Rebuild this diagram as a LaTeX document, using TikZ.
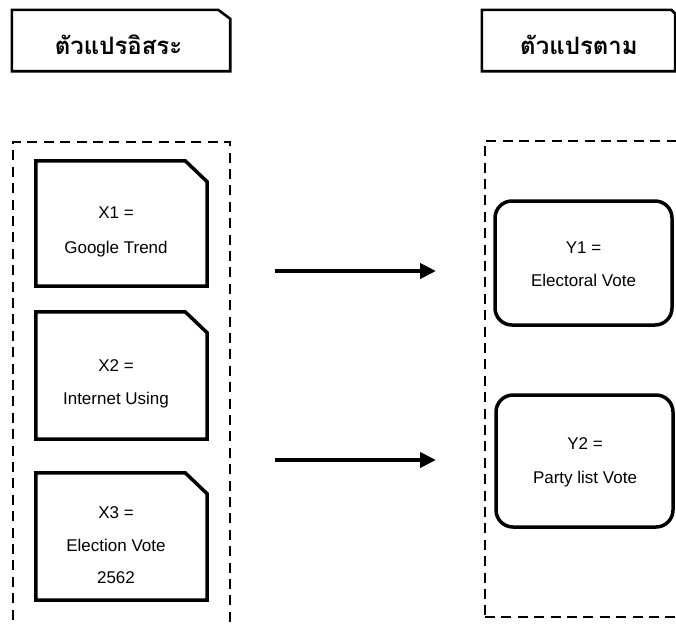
\documentclass[tikz,border=0pt]{standalone}
\usepackage{fontspec}
\setmainfont{Liberation Sans}
\newfontfamily\thaifont[Script=Thai]{Loma}
\usetikzlibrary{arrows.meta}
\begin{document}
\begin{tikzpicture}[x=1pt,y=-1pt,
  hdrline/.style={line width=2.6pt, line join=miter},
  boxline/.style={line width=3.5pt, line join=miter},
  roundbox/.style={draw, line width=3.5pt, rounded corners=17pt, minimum width=177pt, inner sep=0pt},
  dashbox/.style={draw, line width=2.3pt, dash pattern=on 10pt off 6.4pt, inner sep=0pt},
  plainbox/.style={inner sep=0pt},
  lbl/.style={font=\fontsize{17}{20}\selectfont, anchor=base, inner sep=0pt},
  thailbl/.style={font=\thaifont\bfseries\fontsize{24}{28}\selectfont, anchor=base, inner sep=0pt},
  arr/.style={line width=4pt, -{Triangle[length=16pt,width=15pt]}}]
\useasboundingbox (0,0) rectangle (676,624);
\clip (0,0) rectangle (676,624);
% group frames
\node[dashbox, minimum width=217pt, minimum height=558pt] (gx) at (121.5,421) {};
\node[dashbox, minimum width=235pt, minimum height=476pt] (gy) at (602.5,379) {};
% header boxes
\node[plainbox, minimum width=218pt, minimum height=61pt] (hx) at (121,40.5) {};
\draw[hdrline] (hx.north west) -- ([xshift=-12pt]hx.north east) -- ([yshift=-9pt]hx.north east) -- (hx.south east) -- (hx.south west) -- cycle;
\node[thailbl] (hxt) at (118.5,54) {ตัวแปรอิสระ};
\node[plainbox, minimum width=193pt, minimum height=61pt] (hy) at (578.5,40.5) {};
\draw[hdrline] (hy.north west) -- ([xshift=-4pt]hy.north east) -- ([yshift=-4pt]hy.north east) -- (hy.south east) -- (hy.south west) -- cycle;
\node[thailbl] (hyt) at (579,54) {ตัวแปรตาม};
% X boxes
\node[plainbox, minimum width=171pt, minimum height=125pt] (x1) at (121.5,223.5) {};
\node[plainbox, minimum width=171pt, minimum height=127pt] (x2) at (121.5,375.5) {};
\node[plainbox, minimum width=171pt, minimum height=127pt] (x3) at (121.5,536.5) {};
\foreach \b in {x1,x2,x3}{
  \draw[boxline] (\b.north west) -- ([xshift=-22pt]\b.north east) -- ([yshift=-21pt]\b.north east) -- (\b.south east) -- (\b.south west) -- cycle;
}
\node[lbl] (x1a) at (116,218) {X1 =};
\node[lbl] (x1b) at (116,253) {Google Trend};
\node[lbl] (x2a) at (116,371) {X2 =};
\node[lbl] (x2b) at (116,404) {Internet Using};
\node[lbl] (x3a) at (116,518) {X3 =};
\node[lbl] (x3b) at (116,551) {Election Vote};
\node[lbl] (x3c) at (116,583) {2562};
% Y boxes
\node[roundbox, minimum height=124pt] (y1) at (583.5,263) {};
\node[roundbox, minimum height=132pt] (y2) at (584.5,461) {};
\node[lbl] (y1a) at (583.5,253) {Y1 =};
\node[lbl] (y1b) at (583.5,286) {Electoral Vote};
\node[lbl] (y2a) at (585,449) {Y2 =};
\node[lbl] (y2b) at (585,483) {Party list Vote};
% arrows
\coordinate (a1s) at (275,271);
\coordinate (a1e) at (436,271);
\coordinate (a2s) at (275,460);
\coordinate (a2e) at (436,460);
\draw[arr] (a1s) -- (a1e);
\draw[arr] (a2s) -- (a2e);
\end{tikzpicture}
\end{document}
